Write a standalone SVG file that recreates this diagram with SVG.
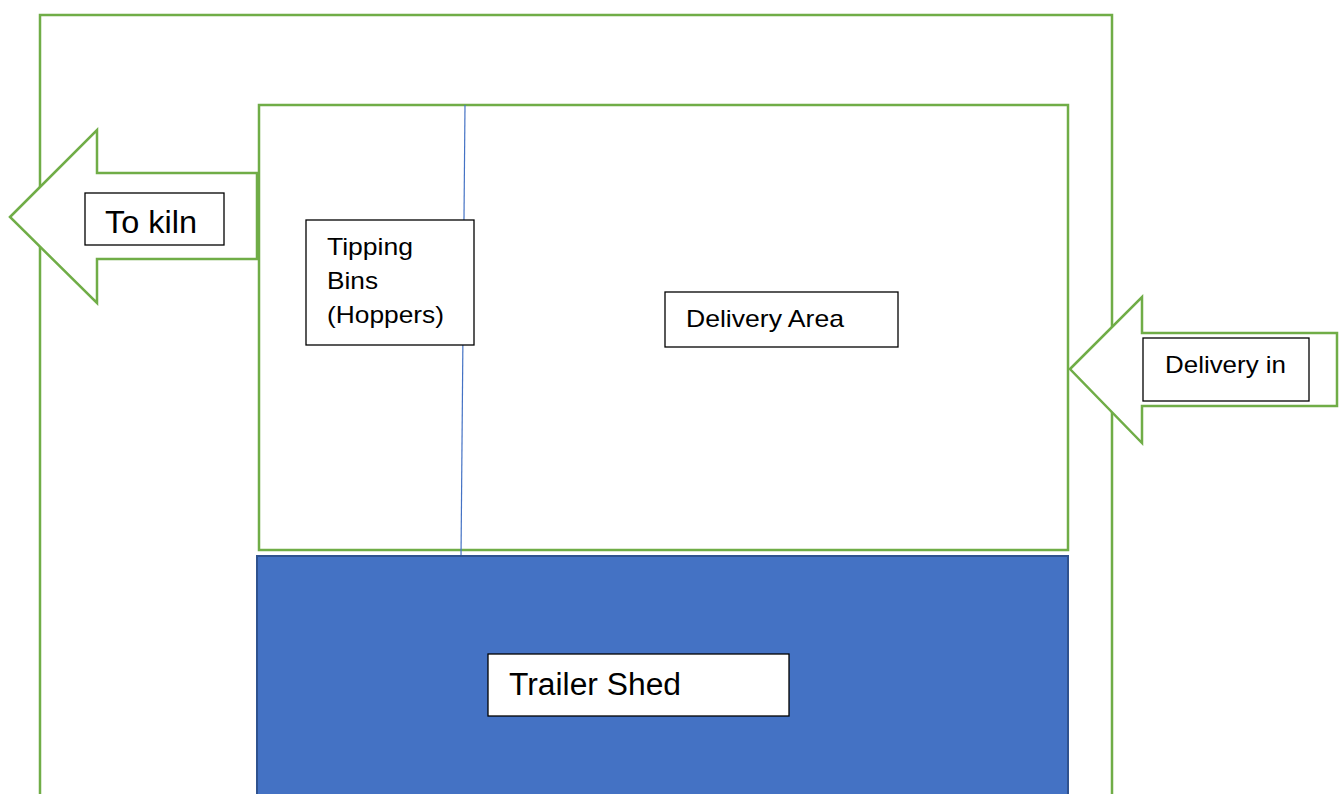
<svg xmlns="http://www.w3.org/2000/svg" width="1341" height="794" viewBox="0 0 1341 794">
  <style>
    .zone { fill: none; stroke: #70AD47; stroke-width: 2.5; }
    .arrow { fill: #FFFFFF; stroke: #70AD47; stroke-width: 2.5; stroke-linejoin: miter; }
    .label { fill: #FFFFFF; stroke: #000000; stroke-width: 1.3; }
    .shed { fill: #4472C4; stroke: #2F528F; stroke-width: 2; }
    .divider { stroke: #4472C4; stroke-width: 1.2; }
    text { font-family: "Liberation Sans", Arial, sans-serif; fill: #000000; }
    .small { font-size: 24px; }
    .big { font-size: 31px; }
  </style>

  <rect width="1341" height="794" fill="#FFFFFF"/>

  <!-- site boundary -->
  <g id="site">
    <path class="zone" d="M40,800 V15 H1112 V800"/>
  </g>

  <!-- yard with delivery area and hoppers -->
  <g id="yard">
    <rect class="zone" x="259" y="105" width="809" height="445"/>
  </g>

  <g id="connectors">
    <line class="divider" x1="465" y1="105" x2="461" y2="557"/>
  </g>

  <!-- trailer shed -->
  <g id="trailer-shed">
    <rect class="shed" x="257" y="556" width="811" height="250"/>
    <rect class="label" x="488" y="654" width="301" height="62"/>
    <text class="big" x="509" y="695" textLength="172" lengthAdjust="spacingAndGlyphs">Trailer Shed</text>
  </g>

  <!-- outgoing arrow -->
  <g id="to-kiln">
    <polygon class="arrow" points="10,217 97,130 97,173 257,173 257,259 97,259 97,303"/>
    <rect class="label" x="85" y="193" width="139" height="52"/>
    <text class="big" x="105" y="233" textLength="92" lengthAdjust="spacingAndGlyphs">To kiln</text>
  </g>

  <!-- incoming arrow -->
  <g id="delivery-in">
    <polygon class="arrow" points="1070,369 1142,297 1142,333 1337,333 1337,406 1142,406 1142,443"/>
    <rect class="label" x="1143" y="338" width="166" height="63"/>
    <text class="small" x="1165" y="373" textLength="121" lengthAdjust="spacingAndGlyphs">Delivery in</text>
  </g>

  <!-- hoppers -->
  <g id="tipping-bins">
    <rect class="label" x="306" y="220" width="168" height="125"/>
    <text class="small" x="327" y="255" textLength="86" lengthAdjust="spacingAndGlyphs">Tipping</text>
    <text class="small" x="327" y="289" textLength="51" lengthAdjust="spacingAndGlyphs">Bins</text>
    <text class="small" x="327" y="323" textLength="117" lengthAdjust="spacingAndGlyphs">(Hoppers)</text>
  </g>

  <!-- delivery area -->
  <g id="delivery-area">
    <rect class="label" x="665" y="292" width="233" height="55"/>
    <text class="small" x="686" y="327" textLength="158" lengthAdjust="spacingAndGlyphs">Delivery Area</text>
  </g>
</svg>
